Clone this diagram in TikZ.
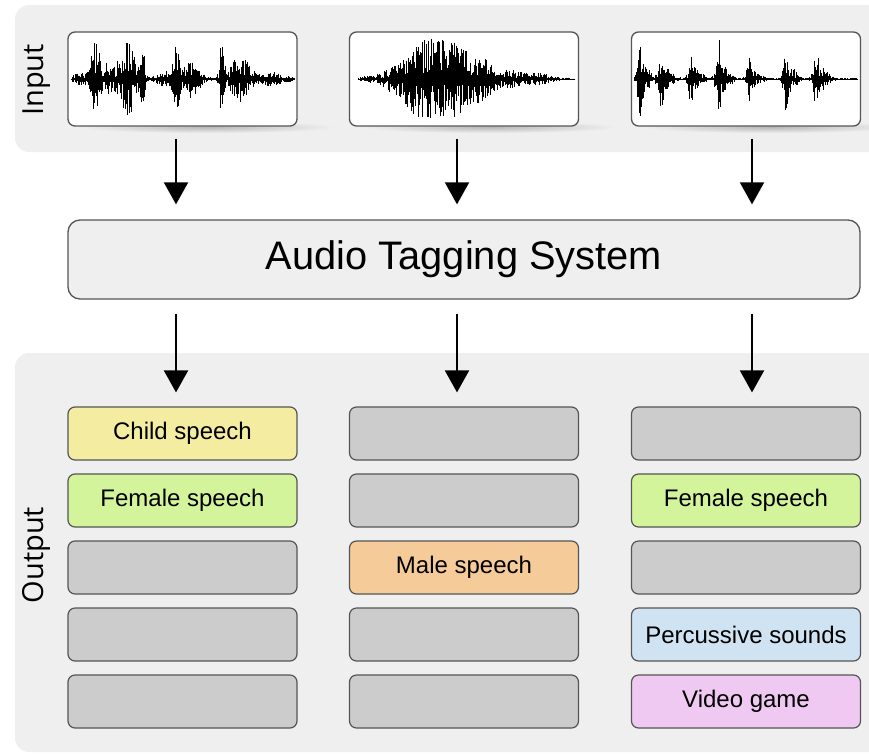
\documentclass[tikz,border=0pt]{standalone}
\usepackage{fontspec}
\setmainfont{Liberation Sans}
\newfontfamily\headfont{Open Sans}
\usetikzlibrary{arrows.meta}

\definecolor{panel}{HTML}{EFEFEF}
\definecolor{edge}{HTML}{555555}
\definecolor{emptyc}{HTML}{CCCCCC}
\definecolor{yellowc}{HTML}{F4EDA1}
\definecolor{greenc}{HTML}{D4F49C}
\definecolor{orangec}{HTML}{F5CB99}
\definecolor{bluec}{HTML}{CFE3F3}
\definecolor{purplec}{HTML}{EFC9F2}

\tikzset{
  declare function={
    gs(\x,\c,\w)=exp(-min(((\x-\c)/\w)^2,30));
    burst(\x,\c,\a)=0.85*\a*gs(\x,\c+1,2.8)+0.35*\a*gs(\x,\c+5,5.5)+0.12*\a*gs(\x,\c+12,6);
    envA(\x)=5*gs(\x,80,9)+36*gs(\x,96,6)+15*gs(\x,109,5)+38*gs(\x,127,10)
             +22*gs(\x,143,3)+8*gs(\x,162,7)+34*gs(\x,176,5)+18*gs(\x,192,9)
             +40*gs(\x,222,2.5)+22*gs(\x,240,12)+6*gs(\x,272,14)+1.5;
    envB(\x)=3*gs(\x,372,12)+9*gs(\x,390,9)+40*exp(-min(((\x-436)/36)^4,30))
             +18*gs(\x,482,14)+8*gs(\x,510,18)+5*gs(\x,540,14)+1.2;
    envC(\x)=burst(\x,639,35)+burst(\x,660,29)+burst(\x,690,24)+burst(\x,717,39)
             +burst(\x,748,22)+burst(\x,785,31)+burst(\x,815,33)+1.2;
  },
  panelbox/.style={fill=panel, rounded corners=14pt},
  wavebox/.style={draw=edge, line width=1.3pt, fill=white, rounded corners=7pt,
                  minimum width=229pt, minimum height=94pt, inner sep=0pt},
  systembox/.style={draw=edge, line width=1.3pt, fill=panel, rounded corners=12pt,
                  minimum width=792pt, minimum height=79pt, inner sep=0pt,
                  font=\fontsize{39.8}{44}\selectfont},
  tagbox/.style={draw=edge, line width=1.2pt, rounded corners=7pt, fill=emptyc,
                  minimum width=229pt, minimum height=53pt, inner sep=0pt,
                  font=\fontsize{24}{28}\selectfont},
  sidelabel/.style={rotate=90, anchor=base, inner sep=0pt,
                  font=\headfont\fontsize{29}{32}\selectfont},
  arr/.style={line width=2pt, -{Triangle[width=24pt,length=22pt]}},
}

% waveform: #1 envelope, #2 left x, #3 number of strokes, #4 centre y
\newcommand\wavestrokes[4]{%
  \draw[line width=0.65pt, black]
    foreach \i [evaluate=\i as \xx using {#2+0.6*\i},
                evaluate=\i as \up using {#1(#2+0.6*\i)*(0.15+0.85*rnd^1.4)},
                evaluate=\i as \dn using {#1(#2+0.6*\i)*(0.15+0.85*rnd^1.4)}]
      in {0,...,#3} { (\xx,#4-\up) -- (\xx,#4+\dn) };
}

\begin{document}
\begin{tikzpicture}[x=1pt,y=-1pt]
\useasboundingbox (0,0) rectangle (869,755);
\pgfmathsetseed{4127}

% background panels
\fill[panelbox] (15,5) rectangle (895,152);
\fill[panelbox] (15,353) rectangle (895,752);

% soft shadows under the waveform cards
\foreach \cx in {207,489,771}
  \shade[inner color=black!28, outer color=panel] (\cx,127) ellipse (128pt and 6pt);

% waveform cards
\node[wavebox] (w1) at (182.5,79) {};
\node[wavebox] (w2) at (464,79) {};
\node[wavebox] (w3) at (746,79) {};

\begin{scope}
  \clip (70,34) rectangle (295,124);
  \draw[line width=0.5pt] (71,79) -- (294,79);
  \wavestrokes{envA}{72}{370}{79}
\end{scope}
\begin{scope}
  \clip (352,34) rectangle (576,124);
  \draw[line width=0.5pt] (358,79) -- (575,79);
  \wavestrokes{envB}{358}{360}{79}
\end{scope}
\begin{scope}
  \clip (634,34) rectangle (858,124);
  \draw[line width=0.5pt] (634,79) -- (858,79);
  \wavestrokes{envC}{634}{370}{79}
\end{scope}

% central system
\node[systembox] (sys) at (464,259.5) {Audio Tagging System};

% side labels
\node[sidelabel] (inlbl) at (43,80) {Input};
\node[sidelabel] (outlbl) at (43,555) {Output};

% output tags, column 1
\node[tagbox, fill=yellowc] (a1) at (182.5,433.5) {Child speech};
\node[tagbox, fill=greenc]  (a2) at (182.5,500.5) {Female speech};
\node[tagbox] (a3) at (182.5,567.5) {};
\node[tagbox] (a4) at (182.5,634.5) {};
\node[tagbox] (a5) at (182.5,701.5) {};
% column 2
\node[tagbox] (b1) at (464,433.5) {};
\node[tagbox] (b2) at (464,500.5) {};
\node[tagbox, fill=orangec] (b3) at (464,567.5) {Male speech};
\node[tagbox] (b4) at (464,634.5) {};
\node[tagbox] (b5) at (464,701.5) {};
% column 3
\node[tagbox] (c1) at (746,433.5) {};
\node[tagbox, fill=greenc] (c2) at (746,500.5) {Female speech};
\node[tagbox] (c3) at (746,567.5) {};
\node[tagbox, fill=bluec] (c4) at (746,634.5) {Percussive sounds};
\node[tagbox, fill=purplec] (c5) at (746,701.5) {Video game};

% arrow columns
\coordinate (k1) at (176,0);
\coordinate (k2) at (457,0);
\coordinate (k3) at (752,0);

\draw[arr, shorten <=12pt, shorten >=15pt] (w1.south -| k1) -- (sys.north -| k1);
\draw[arr, shorten <=12pt, shorten >=15pt] (w2.south -| k2) -- (sys.north -| k2);
\draw[arr, shorten <=12pt, shorten >=15pt] (w3.south -| k3) -- (sys.north -| k3);

\draw[arr, shorten <=14pt, shorten >=14pt] (sys.south -| k1) -- (a1.north -| k1);
\draw[arr, shorten <=14pt, shorten >=14pt] (sys.south -| k2) -- (b1.north -| k2);
\draw[arr, shorten <=14pt, shorten >=14pt] (sys.south -| k3) -- (c1.north -| k3);
\end{tikzpicture}
\end{document}
